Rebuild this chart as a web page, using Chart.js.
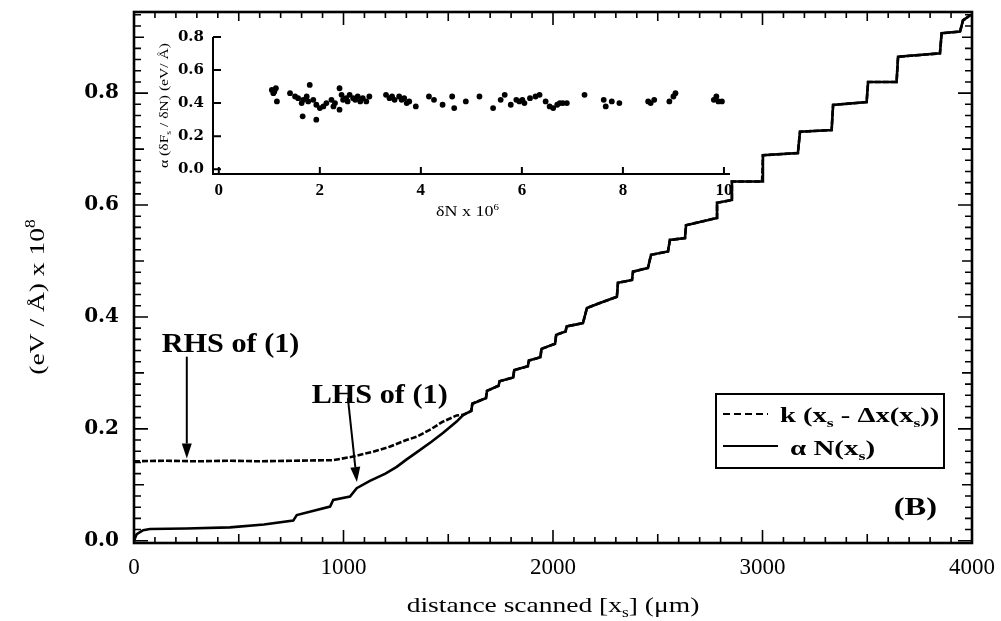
<!DOCTYPE html>
<html>
<head>
<meta charset="utf-8">
<script src="https://cdn.jsdelivr.net/npm/chart.js@4"></script>
<style>
  body { margin: 0; background: #fff; }
  #mainChart { position: absolute; left: 0; top: 0; }
  #insetChart { position: absolute; left: 140px; top: 20px; }
</style>
</head>
<body>
<canvas id="mainChart" width="1001" height="621"></canvas>
<canvas id="insetChart" width="620" height="220"></canvas>
<script>
// RHS of (1), before it joins the staircase (distance in um, value in eV/A x 1e8)
const rhsX = [0, 150, 300, 450, 600, 750, 950, 1040, 1140, 1220, 1300, 1350, 1420, 1470, 1540];
const rhsY = [0.142, 0.143, 0.142, 0.143, 0.142, 0.143, 0.144, 0.150, 0.159, 0.168, 0.180, 0.186, 0.200, 0.212, 0.224];

// LHS of (1), before it joins the staircase
const lhsX = [0, 13, 44, 76, 250, 458, 620, 760, 777, 936, 951, 1031, 1063, 1126, 1200, 1254, 1300, 1349, 1420, 1476, 1540];
const lhsY = [0, 0.012, 0.019, 0.021, 0.022, 0.024, 0.029, 0.036, 0.046, 0.061, 0.073, 0.079, 0.094, 0.107, 0.12, 0.132, 0.145, 0.158, 0.177, 0.193, 0.213];

// staircase where both curves overlap
const stairX = [1572, 1610, 1615, 1680, 1685, 1740, 1745, 1810, 1815, 1880, 1885, 1940, 1945, 2010, 2015, 2060, 2065, 2143, 2162, 2224,
  2305, 2310, 2377, 2382, 2453, 2468, 2549, 2558, 2630, 2635, 2783, 2783, 2854, 2854, 2998, 3002, 3169, 3179, 3330, 3337,
  3497, 3504, 3640, 3647, 3847, 3855, 3943, 3957, 3995];
const stairY = [0.225, 0.232, 0.245, 0.255, 0.268, 0.277, 0.285, 0.292, 0.305, 0.312, 0.322, 0.328, 0.343, 0.352, 0.368, 0.374, 0.383, 0.389, 0.416, 0.425,
  0.436, 0.461, 0.466, 0.481, 0.4875, 0.511, 0.517, 0.5375, 0.541, 0.564, 0.577, 0.604, 0.609, 0.642, 0.642, 0.689, 0.693, 0.731, 0.734, 0.779,
  0.784, 0.820, 0.820, 0.865, 0.871, 0.907, 0.910, 0.930, 0.94];

// Inset: alpha (dF/dN) against dN x 1e6
const insetX = [1.05, 1.10, 1.13, 1.15, 1.41, 1.51, 1.57, 1.64, 1.67, 1.66, 1.74, 1.77, 1.80, 1.87, 1.93, 1.93, 2.00, 2.07, 2.13, 2.23,
  2.30, 2.39, 2.39, 2.43, 2.46, 2.52, 2.59, 2.66, 2.75, 2.85, 2.92, 2.98, 3.31, 3.38, 3.48, 3.57, 3.67, 3.77, 3.90, 4.16,
  4.26, 4.43, 4.62, 4.66, 4.89, 5.16, 5.43, 5.58, 5.66, 5.78, 5.89, 6.01, 6.16, 6.27, 6.35, 6.47, 6.62, 6.70, 6.81, 6.89,
  7.24, 7.62, 7.66, 7.78, 7.93, 8.50, 8.62, 8.92, 9.00, 9.04, 9.85, 9.89, 9.96,
  2.55, 2.70, 2.80, 3.43, 3.62, 3.72, 6.05, 6.55, 6.75, 8.55, 9.80, 1.08, 2.27, 5.95];
const insetY = [0.48, 0.47, 0.49, 0.41, 0.46, 0.44, 0.43, 0.40, 0.42, 0.32, 0.44, 0.41, 0.51, 0.42, 0.39, 0.30, 0.37, 0.38, 0.40, 0.42,
  0.40, 0.49, 0.36, 0.45, 0.42, 0.43, 0.45, 0.43, 0.44, 0.43, 0.41, 0.44, 0.45, 0.43, 0.42, 0.44, 0.43, 0.41, 0.38, 0.44,
  0.42, 0.39, 0.44, 0.37, 0.41, 0.44, 0.37, 0.42, 0.45, 0.39, 0.42, 0.42, 0.43, 0.44, 0.45, 0.41, 0.37, 0.39, 0.40, 0.40,
  0.45, 0.42, 0.38, 0.41, 0.40, 0.41, 0.42, 0.41, 0.44, 0.46, 0.44, 0.41, 0.41,
  0.41, 0.42, 0.41, 0.44, 0.42, 0.40, 0.40, 0.38, 0.40, 0.40, 0.42, 0.46, 0.38, 0.41];

const xTicks = [0, 1000, 2000, 3000, 4000];
const yTicks = [0, 0.2, 0.4, 0.6, 0.8];
const insetXTicks = [0, 2, 4, 6, 8, 10];
const insetYTicks = [0, 0.2, 0.4, 0.6, 0.8];

const SERIF = "'Liberation Serif', serif";
const toPoints = (xs, ys) => xs.map((x, i) => ({ x: x, y: ys[i] }));

// Helper: text with sub/superscripts, optional horizontal stretch and rotation
function drawRich(ctx, parts, x, y, opt) {
    const size = opt.size;
    const weight = opt.weight || 'normal';
    const fontFor = t => `${weight} ${t ? Math.round(size * 0.62) : size}px ${SERIF}`;
    ctx.save();
    ctx.translate(x, y);
    if (opt.rotate) ctx.rotate(opt.rotate);
    ctx.scale(opt.sx || 1, 1);
    ctx.fillStyle = '#000';
    ctx.textAlign = 'left';
    ctx.textBaseline = 'alphabetic';
    let w = 0;
    parts.forEach(p => { ctx.font = fontFor(p[1]); w += ctx.measureText(p[0]).width; });
    let cx = opt.align === 'center' ? -w / 2 : (opt.align === 'right' ? -w : 0);
    parts.forEach(p => {
        ctx.font = fontFor(p[1]);
        const dy = p[1] === 'sub' ? size * 0.22 : (p[1] === 'sup' ? -size * 0.42 : 0);
        ctx.fillText(p[0], cx, dy);
        cx += ctx.measureText(p[0]).width;
    });
    ctx.restore();
}

function drawArrow(ctx, x1, y1, x2, y2) {
    const ang = Math.atan2(y2 - y1, x2 - x1);
    const head = 15, half = 5;
    ctx.beginPath();
    ctx.moveTo(x1, y1);
    ctx.lineTo(x2 - Math.cos(ang) * head, y2 - Math.sin(ang) * head);
    ctx.stroke();
    ctx.beginPath();
    ctx.moveTo(x2, y2);
    ctx.lineTo(x2 - Math.cos(ang) * head - Math.sin(ang) * half, y2 - Math.sin(ang) * head + Math.cos(ang) * half);
    ctx.lineTo(x2 - Math.cos(ang) * head + Math.sin(ang) * half, y2 - Math.sin(ang) * head - Math.cos(ang) * half);
    ctx.closePath();
    ctx.fill();
}

// keep only the listed tick values
const keepTicks = list => scale => {
    scale.ticks = list.map(v => ({ value: v }));
};

// fixed axis size, no extra padding from the tick labels
const fixSize = (prop, size) => scale => {
    scale[prop] = size;
    scale.paddingTop = 0;
    scale.paddingBottom = 0;
    scale.paddingLeft = 0;
    scale.paddingRight = 0;
};

// Frame with inward ticks on all four sides, titles, labels and legend
const mainDecor = {
    id: 'mainDecor',
    afterDraw(chart) {
        const { ctx, chartArea: a, scales: { x, y } } = chart;
        ctx.save();
        ctx.strokeStyle = '#000';
        ctx.fillStyle = '#000';
        ctx.lineWidth = 1.6;
        ctx.beginPath();
        for (let i = 0; i <= 40; i++) {
            const px = x.getPixelForValue(i * 100);
            const len = i % 10 === 0 ? 13 : (i % 5 === 0 ? 9 : 6);
            ctx.moveTo(px, a.bottom); ctx.lineTo(px, a.bottom - len);
            ctx.moveTo(px, a.top); ctx.lineTo(px, a.top + len);
        }
        for (let i = 0; i <= 47; i++) {
            const py = y.getPixelForValue(i * 0.02);
            const len = i % 10 === 0 ? 14 : (i % 5 === 0 ? 10 : 7);
            ctx.moveTo(a.left, py); ctx.lineTo(a.left + len, py);
            ctx.moveTo(a.right, py); ctx.lineTo(a.right - len, py);
        }
        ctx.stroke();
        ctx.lineWidth = 2.6;
        ctx.strokeRect(a.left, a.top, a.width, a.height);

        // axis titles
        drawRich(ctx, [['distance scanned [x'], ['s', 'sub'], ['] (μm)']], (a.left + a.right) / 2, 612,
            { size: 22, sx: 1.25, align: 'center' });
        drawRich(ctx, [['(eV / Å) x 10'], ['8', 'sup']], 44, 297,
            { size: 22, sx: 1.25, align: 'center', rotate: -Math.PI / 2 });

        // annotations
        ctx.lineWidth = 2;
        drawRich(ctx, [['RHS of (1)']], x.getPixelForValue(132), y.getPixelForValue(0.338),
            { size: 28, weight: 'bold', sx: 1.08 });
        drawArrow(ctx, x.getPixelForValue(252), y.getPixelForValue(0.329), x.getPixelForValue(252), y.getPixelForValue(0.147));
        drawRich(ctx, [['LHS of (1)']], x.getPixelForValue(848), y.getPixelForValue(0.246),
            { size: 28, weight: 'bold', sx: 1.08 });
        drawArrow(ctx, x.getPixelForValue(1021), y.getPixelForValue(0.255), x.getPixelForValue(1064), y.getPixelForValue(0.105));
        drawRich(ctx, [['(B)']], x.getPixelForValue(3833), y.getPixelForValue(0.046),
            { size: 26, weight: 'bold', sx: 1.25, align: 'right' });

        // legend box
        ctx.lineWidth = 2;
        ctx.strokeRect(716, 394, 228, 74);
        ctx.setLineDash([7, 4]);
        ctx.beginPath(); ctx.moveTo(723, 414); ctx.lineTo(768, 414); ctx.stroke();
        ctx.setLineDash([]);
        ctx.beginPath(); ctx.moveTo(723, 446); ctx.lineTo(778, 446); ctx.stroke();
        drawRich(ctx, [['k (x'], ['s', 'sub'], [' - Δx(x'], ['s', 'sub'], ['))']], 780, 422,
            { size: 21, weight: 'bold', sx: 1.36 });
        drawRich(ctx, [['α N(x'], ['s', 'sub'], [')']], 790, 455,
            { size: 21, weight: 'bold', sx: 1.38 });
        ctx.restore();
    }
};

// Inset: L-shaped axes with inward ticks and titles
const insetDecor = {
    id: 'insetDecor',
    afterDraw(chart) {
        const { ctx, chartArea: a, scales: { x, y } } = chart;
        ctx.save();
        ctx.strokeStyle = '#000';
        ctx.lineWidth = 2;
        ctx.beginPath();
        ctx.moveTo(a.left, a.top); ctx.lineTo(a.left, a.bottom); ctx.lineTo(a.right, a.bottom);
        insetXTicks.forEach(v => {
            const px = x.getPixelForValue(v);
            ctx.moveTo(px, a.bottom); ctx.lineTo(px, a.bottom - 7);
        });
        insetYTicks.forEach(v => {
            const py = y.getPixelForValue(v);
            ctx.moveTo(a.left, py); ctx.lineTo(a.left + 8, py);
        });
        ctx.stroke();
        drawRich(ctx, [['δN x 10'], ['6', 'sup']], (a.left + a.right) / 2 - 4, 196,
            { size: 15, sx: 1.2, align: 'center' });
        drawRich(ctx, [['α (δF'], ['s', 'sub'], [' / δN) (eV/ Å)']], 28, (a.top + a.bottom) / 2,
            { size: 13, sx: 1.2, align: 'center', rotate: -Math.PI / 2 });
        ctx.restore();
    }
};

// Function to create the main chart
function createMainChart() {
    const ctx = document.getElementById('mainChart').getContext('2d');
    new Chart(ctx, {
        type: 'line',
        data: {
            datasets: [
                {
                    label: 'k (xs - Δx(xs))',
                    data: toPoints(rhsX.concat(stairX), rhsY.concat(stairY)),
                    borderColor: '#000',
                    borderWidth: 2.6,
                    borderDash: [6, 2],
                    pointRadius: 0,
                    tension: 0
                },
                {
                    label: 'α N(xs)',
                    data: toPoints(lhsX.concat(stairX), lhsY.concat(stairY)),
                    borderColor: '#000',
                    borderWidth: 2.6,
                    pointRadius: 0,
                    tension: 0
                }
            ]
        },
        options: {
            responsive: false,
            animation: false,
            devicePixelRatio: 1,
            events: [],
            layout: { padding: { left: 0, top: 12, right: 29, bottom: 0 } },
            plugins: { legend: { display: false }, tooltip: { enabled: false } },
            scales: {
                x: {
                    type: 'linear',
                    min: 0,
                    max: 4000,
                    afterFit: fixSize('height', 78),
                    afterBuildTicks: keepTicks(xTicks),
                    grid: { display: false, drawTicks: false },
                    border: { display: false },
                    ticks: {
                        color: '#000', padding: 11, maxRotation: 0,
                        font: { family: SERIF, size: 23 },
                        callback: v => String(v)
                    }
                },
                y: {
                    type: 'linear',
                    min: -0.004,
                    max: 0.945,
                    afterFit: fixSize('width', 134),
                    afterBuildTicks: keepTicks(yTicks),
                    grid: { display: false, drawTicks: false },
                    border: { display: false },
                    ticks: {
                        color: '#000', padding: 15,
                        font: { family: "'DejaVu Serif', serif", size: 20, weight: 'bold' },
                        callback: v => v.toFixed(1)
                    }
                }
            }
        },
        plugins: [mainDecor]
    });
}

// Function to create the inset scatter chart
function createInsetChart() {
    const ctx = document.getElementById('insetChart').getContext('2d');
    new Chart(ctx, {
        type: 'scatter',
        data: {
            datasets: [{
                label: 'α (δFs / δN)',
                data: toPoints(insetX, insetY),
                backgroundColor: '#000',
                borderWidth: 0,
                pointRadius: 2.9
            }]
        },
        options: {
            responsive: false,
            animation: false,
            devicePixelRatio: 1,
            events: [],
            layout: { padding: { left: 0, top: 17, right: 30, bottom: 0 } },
            plugins: { legend: { display: false }, tooltip: { enabled: false } },
            scales: {
                x: {
                    type: 'linear',
                    min: -0.115,
                    max: 10.12,
                    afterFit: fixSize('height', 66),
                    afterBuildTicks: keepTicks(insetXTicks),
                    grid: { display: false, drawTicks: false },
                    border: { display: false },
                    ticks: {
                        color: '#000', padding: 6, maxRotation: 0,
                        font: { family: SERIF, size: 17, weight: 'bold' },
                        callback: v => String(v)
                    }
                },
                y: {
                    type: 'linear',
                    min: -0.029,
                    max: 0.8,
                    afterFit: fixSize('width', 73),
                    afterBuildTicks: keepTicks(insetYTicks),
                    grid: { display: false, drawTicks: false },
                    border: { display: false },
                    ticks: {
                        color: '#000', padding: 9,
                        font: { family: "'DejaVu Serif', serif", size: 15, weight: 'bold' },
                        callback: v => v.toFixed(1)
                    }
                }
            }
        },
        plugins: [insetDecor]
    });
}

createMainChart();
createInsetChart();
</script>
</body>
</html>
